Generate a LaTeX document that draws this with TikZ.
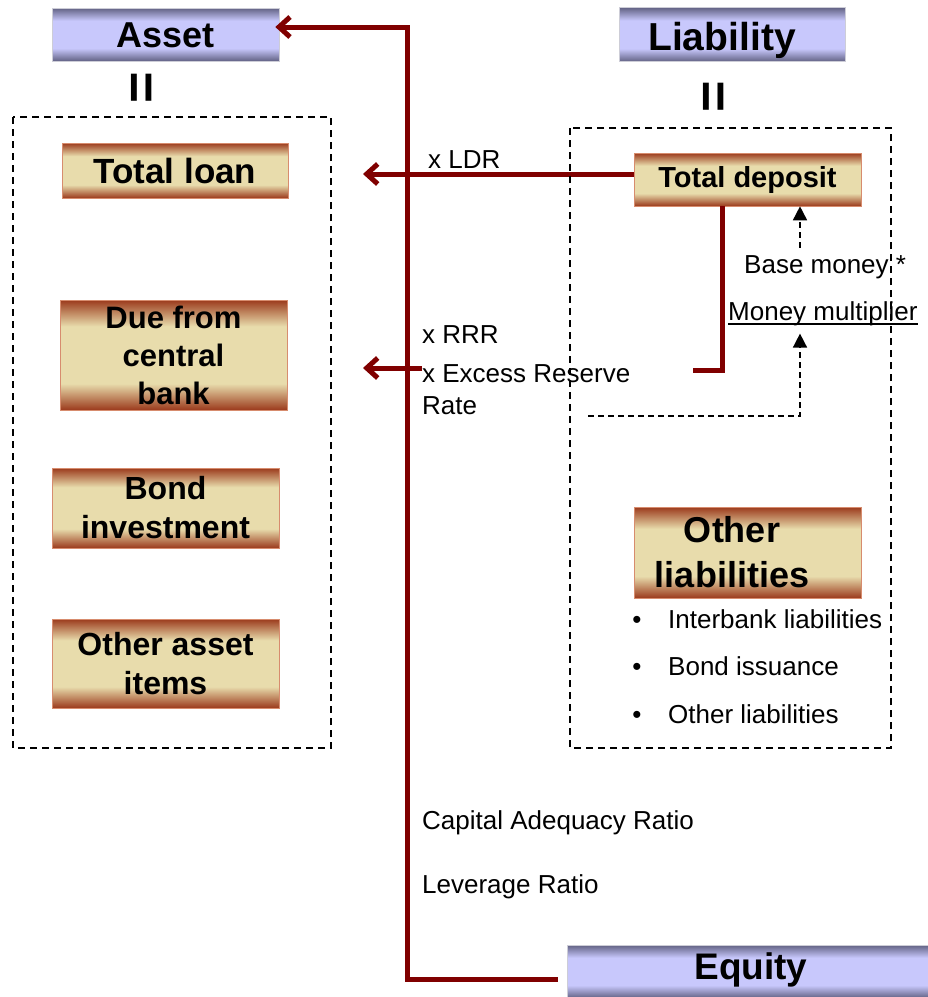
\documentclass[tikz,border=0pt]{standalone}
\usepackage{fontspec}
\setmainfont{Liberation Sans}
\usetikzlibrary{arrows.meta}
\definecolor{brn}{RGB}{155,58,28}
\definecolor{bge}{RGB}{232,220,172}
\definecolor{hdark}{RGB}{98,98,132}
\definecolor{hlight}{RGB}{200,200,252}
\definecolor{dred}{RGB}{128,0,0}
\definecolor{goldedge}{RGB}{215,140,110}
\definecolor{headedge}{RGB}{205,205,215}
\pgfdeclareverticalshading{goldsh}{100bp}{color(0bp)=(brn); color(25bp)=(brn); color(37bp)=(bge); color(63bp)=(bge); color(75bp)=(brn); color(100bp)=(brn)}
\pgfdeclareverticalshading{headsh}{100bp}{color(0bp)=(hdark); color(25bp)=(hdark); color(37bp)=(hlight); color(63bp)=(hlight); color(75bp)=(hdark); color(100bp)=(hdark)}
\tikzset{
  goldbox/.style={shading=goldsh, draw=goldedge, line width=0.6pt, inner sep=0pt, align=center,
    font=\bfseries\fontsize{31}{38}\selectfont},
  headbox/.style={shading=headsh, draw=headedge, line width=0.6pt, inner sep=0pt,
    font=\bfseries\fontsize{36}{40}\selectfont},
  headtext/.style={inner sep=0pt, anchor=base},
  eqsign/.style={rotate=90, inner sep=0pt, font=\bfseries\fontsize{54}{54}\selectfont},
  redline/.style={draw=dred, line width=5pt},
  redarrow/.style={redline, -{Straight Barb[length=11pt,width=20pt]}},
  dashbox/.style={draw=black, line width=2.3pt, dash pattern=on 7pt off 5pt},
  dasharrow/.style={draw=black, line width=1.6pt, dash pattern=on 6pt off 4pt, -{Triangle[length=14pt,width=14pt]}},
  plain/.style={inner sep=0pt, anchor=base west, font=\fontsize{26}{32}\selectfont},
  bullet/.style={inner sep=0pt, anchor=base, font=\fontsize{26}{32}\selectfont}
}
\begin{document}
\begin{tikzpicture}[x=1pt,y=-1pt]
\useasboundingbox (0,0) rectangle (928,997);

% header boxes
\node[headbox, minimum width=227pt, minimum height=53pt] (asset) at (165.5,34.5) {};
\node[headtext, font=\bfseries\fontsize{36}{40}\selectfont] (assett) at (165.5,47) {Asset};
\node[headbox, minimum width=226pt, minimum height=54pt] (liab) at (732,34.5) {};
\node[headtext, font=\bfseries\fontsize{39}{42}\selectfont] (liabt) at (722,50) {Liability};
\node[headbox, minimum width=368pt, minimum height=53pt] (eq) at (751,971.5) {};
\node[headtext, font=\bfseries\fontsize{37}{40}\selectfont] (eqt) at (751,979) {Equity};

% equal signs
\node[eqsign] (eqa) at (145,88) {=};
\node[eqsign] (eql) at (717,97) {=};

% asset items
\node[goldbox, minimum width=226pt, minimum height=55pt, font=\bfseries\fontsize{35}{40}\selectfont] (loan) at (175,170.5) {Total loan};
\node[goldbox, minimum width=227pt, minimum height=110pt] (due) at (173.5,355) {Due from\\central\\bank};
\node[goldbox, minimum width=227pt, minimum height=80pt, font=\bfseries\fontsize{32}{39}\selectfont] (bond) at (165.5,508) {Bond\\investment};
\node[goldbox, minimum width=227pt, minimum height=89pt, font=\bfseries\fontsize{32}{39}\selectfont] (oasset) at (165.5,663.5) {Other asset\\items};

% liability items
\node[goldbox, minimum width=227pt, minimum height=53pt, font=\bfseries\fontsize{29}{34}\selectfont] (td) at (747.5,179.5) {Total deposit};
\node[goldbox, minimum width=227pt, minimum height=91pt] (ol) at (747.5,552.5) {};
\node[inner sep=0pt, align=center, font=\bfseries\fontsize{36}{45}\selectfont] (olt) at (732,552.5) {Other\\liabilities};

% coordinates
\coordinate (vtop) at (407,27);
\coordinate (vbot) at (407,979);
\coordinate (ldrend) at (363,174);
\coordinate (rx) at (722,0);
\coordinate (rcorner) at (722,370);
\coordinate (rend) at (693,370);
\coordinate (rstart) at (422,368);
\coordinate (rtip) at (363,368);
\coordinate (ax) at (800,0);
\coordinate (dstart) at (588,416);
\coordinate (dcorner) at (800,416);

% red connectors
\draw[redarrow] ([xshift=-9pt]eq.west |- vbot) -- (vbot) -- (vtop) -- ([xshift=-4pt]asset.east |- vtop);
\draw[redarrow] (td.west |- ldrend) -- (ldrend);
\draw[redline] (td.south -| rx) -- (rcorner) -- (rend);
\draw[redarrow] (rstart) -- (rtip);

% dashed boxes
\draw[dashbox] (13,117) rectangle (331,748);
\draw[dashbox] (570,128) rectangle (891,748);

% texts
\node[plain] (ldr) at (428,168) {x LDR};
\node[plain] (rrr) at (422,343) {x RRR};
\node[plain] (exr) at (422,382) {x Excess Reserve};
\node[plain] (rate) at (422,414) {Rate};
\node[plain] (car) at (422,829) {Capital Adequacy Ratio};
\node[plain] (lev) at (422,893) {Leverage Ratio};
\node[plain] (bm) at (744,273) {Base money *};
\node[plain] (mm) at (728,320) {Money multiplier};
\draw[line width=1.3pt] ([yshift=-4pt]mm.base west) -- ([yshift=-4pt]mm.base east);

% dashed arrows
\draw[dasharrow, shorten <=7pt] (bm.north -| ax) -- (td.south -| ax);
\draw[dasharrow, shorten >=8pt] (dstart) -- (dcorner) -- (mm.south -| ax);

% bullet list
\node[bullet] (b1) at (637,628) {•};
\node[plain] (l1) at (668,628) {Interbank liabilities};
\node[bullet] (b2) at (637,675) {•};
\node[plain] (l2) at (668,675) {Bond issuance};
\node[bullet] (b3) at (637,723) {•};
\node[plain] (l3) at (668,723) {Other liabilities};
\end{tikzpicture}
\end{document}
